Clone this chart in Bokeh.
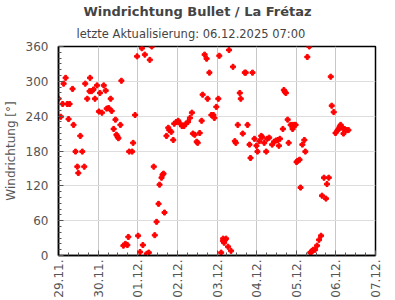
from bokeh.plotting import figure
from bokeh.models import FixedTicker, Title, Range1d
from bokeh.embed import file_html
from bokeh.resources import INLINE
from math import pi

title_text = "Windrichtung Bullet / La Frétaz"
subtitle_text = "letzte Aktualisierung: 06.12.2025 07:00"
y_label = "Windrichtung [°]"

day_labels = ["29.11.", "30.11.", "01.12.", "02.12.", "03.12.", "04.12.", "05.12.", "06.12.", "07.12."]
y_ticks = [0, 60, 120, 180, 240, 300, 360]

# hours since 29.11.2025 00:00
hours = [0.0, 1.4, 2.5, 3.1, 4.3, 5.3, 6.1, 6.7, 8.5, 9.1, 10.3, 11.4, 12.0, 13.2, 14.4, 15.6, 16.2, 17.4,
         18.8, 19.1, 20.0, 21.2, 22.1, 23.3, 24.5, 25.1, 26.3, 27.4, 28.6, 29.2, 30.4, 31.6, 32.2, 33.4,
         34.5, 35.1, 35.7, 36.3, 37.5, 38.1, 39.3, 40.5, 41.7, 42.3, 42.8, 44.6, 45.2, 46.4, 47.6, 48.2,
         49.4, 50.5, 51.1, 52.3, 53.5, 54.7, 55.3, 56.5, 57.7, 58.3, 59.4, 60.6, 61.2, 62.4, 63.0, 63.6,
         64.2, 65.4, 66.5, 67.1, 68.3, 69.5, 70.1, 71.3, 72.5, 73.7, 74.8, 76.0, 77.2, 78.4, 79.6, 80.8,
         81.4, 82.5, 83.7, 84.3, 85.5, 86.7, 87.3, 88.5, 89.7, 90.3, 91.4, 92.6, 93.8, 94.4, 95.6, 96.8,
         97.4, 98.5, 99.7, 99.7, 100.3, 100.9, 101.5, 102.7, 103.3, 104.5, 105.7, 106.8, 107.4, 108.6,
         109.8, 110.4, 111.6, 112.8, 113.4, 114.5, 115.7, 116.3, 117.5, 118.7, 119.9, 120.5, 121.7,
         122.8, 123.4, 124.6, 125.8, 126.4, 127.6, 129.4, 130.6, 131.7, 132.9, 133.5, 134.1, 135.9,
         136.5, 137.1, 137.7, 138.8, 139.4, 140.6, 141.8, 141.8, 143.0, 143.6, 144.2, 144.8, 146.0,
         146.6, 147.7, 148.9, 149.5, 150.7, 151.9, 152.5, 153.1, 153.7, 154.3, 155.4, 156.6, 157.8,
         159.0, 159.6, 160.8, 162.0, 162.6, 163.7, 164.9, 165.5, 166.7, 167.8, 169.1, 169.7, 170.3,
         170.9, 172.0, 172.6, 173.2, 174.4, 175.6]

direction = [270, 239, 261, 296, 306, 261, 235, 261, 287, 225, 179, 153, 142, 206, 179, 153, 296, 270,
             283, 306, 283, 286, 270, 293, 248, 280, 246, 293, 284, 253, 254, 270, 249, 218,
             234, 208, 205, 202, 225, 301, 17, 20, 18, 32, 179, 179, 194, 242, 343, 34,
             6, 357, 18, 346, 3, 5, 337, 360, 153, 35, 58, 89, 122, 134, 139, 141,
             74, 206, 220, 216, 213, 199, 227, 230, 232, 227, 223, 223, 227, 230, 237, 246,
             210, 208, 196, 194, 211, 232, 277, 346, 339, 270, 315, 242, 242, 237, 256, 270,
             344, 5, 29, 25, 22, 27, 29, 15, 354, 8, 325, 197, 194, 225,
             280, 270, 210, 315, 315, 225, 191, 168, 315, 201, 189, 179, 197,
             206, 204, 194, 179, 201, 203, 191, 196, 198, 199, 189, 201, 218,
             285, 282, 280, 234, 194, 225, 225, 218, 225, 225, 161, 163, 165,
             117, 191, 199, 179, 342, 360, 5, 6, 8, 10, 10, 17, 27,
             34, 103, 134, 98, 123, 134, 308, 258, 247, 211, 216, 218, 222,
             225, 220, 210, 218, 216, 216]

font = "DejaVu Sans"

p = figure(width=395, height=300, output_backend="svg", toolbar_location=None,
           x_range=Range1d(0, 192), y_range=Range1d(0, 360),
           min_border_left=51, min_border_right=20, min_border_top=46, min_border_bottom=45,
           title=None)

p.scatter(hours, direction, marker="plus", size=5, color="red")

p.add_layout(Title(text=subtitle_text, align="left", text_font=font, text_font_size="11.5px",
                   text_font_style="normal", text_color="#444444", offset=18, standoff=12), "above")
p.add_layout(Title(text=title_text, align="left", text_font=font, text_font_size="13px",
                   text_font_style="bold", text_color="#444444", offset=25, standoff=0), "above")

day_ticks = [24 * i for i in range(len(day_labels))]
p.xaxis.ticker = FixedTicker(ticks=day_ticks, minor_ticks=list(range(0, 193, 6)))
p.xaxis.major_label_overrides = {t: lab for t, lab in zip(day_ticks, day_labels)}
p.xaxis.major_label_orientation = pi / 2
p.yaxis.ticker = FixedTicker(ticks=y_ticks, minor_ticks=list(range(0, 361, 10)))
p.yaxis.axis_label = y_label

for ax in (p.xaxis, p.yaxis):
    ax.major_label_text_font = font
    ax.major_label_text_font_size = "12px"
    ax.major_label_text_color = "#555555"
    ax.axis_line_color = "black"
    ax.axis_line_width = 1.5
    ax.major_tick_in = 5
    ax.major_tick_out = 0
    ax.minor_tick_in = 3
    ax.minor_tick_out = 0
    ax.major_tick_line_color = "#555555"
    ax.minor_tick_line_color = "#555555"

p.xaxis.major_label_standoff = 4
p.yaxis.major_label_standoff = 10

p.yaxis.axis_label_text_font = font
p.yaxis.axis_label_text_font_size = "12px"
p.yaxis.axis_label_text_font_style = "normal"
p.yaxis.axis_label_text_color = "#555555"
p.yaxis.axis_label_standoff = 5

p.xgrid.grid_line_color = "#c8c8c8"
p.ygrid.grid_line_color = "#dddddd"
p.outline_line_color = "black"
p.outline_line_width = 1.5
p.background_fill_color = "white"
p.border_fill_color = "white"

open("out.html", "w").write(file_html(p, INLINE))
